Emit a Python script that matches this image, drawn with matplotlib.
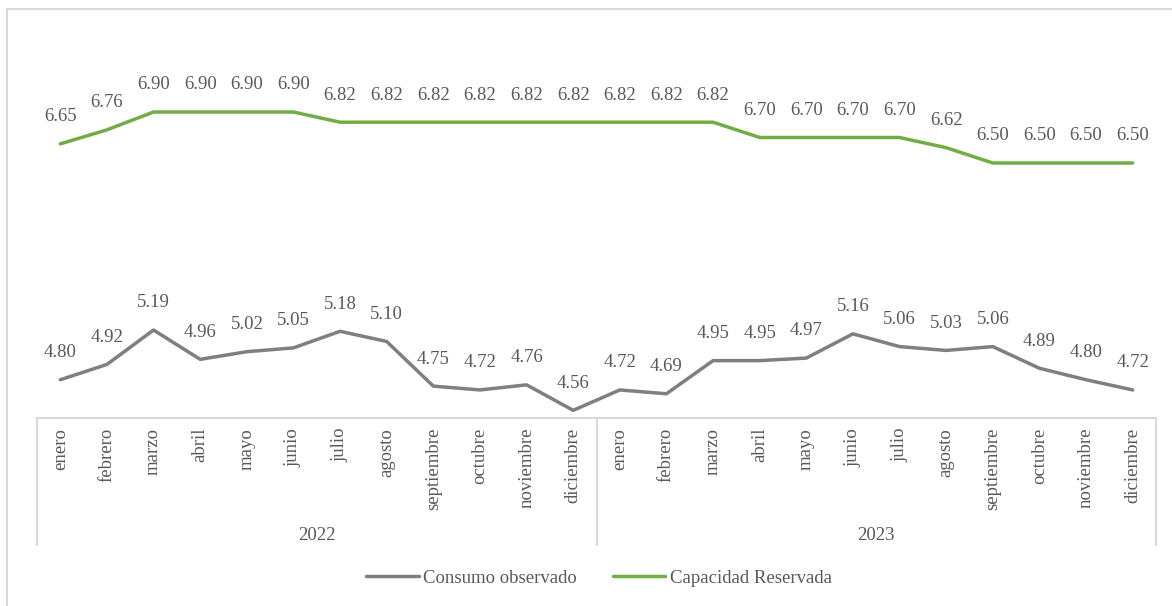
import matplotlib
matplotlib.use("Agg")
import matplotlib.pyplot as plt
from matplotlib.lines import Line2D
import matplotlib.transforms as mtransforms

# Monthly data, two years
months = ["enero", "febrero", "marzo", "abril", "mayo", "junio", "julio",
          "agosto", "septiembre", "octubre", "noviembre", "diciembre"]
years = ["2022", "2023"]

consumo = [4.80, 4.92, 5.19, 4.96, 5.02, 5.05, 5.18, 5.10, 4.75, 4.72, 4.76, 4.56,
           4.72, 4.69, 4.95, 4.95, 4.97, 5.16, 5.06, 5.03, 5.06, 4.89, 4.80, 4.72]
capacidad = [6.65, 6.76, 6.90, 6.90, 6.90, 6.90, 6.82, 6.82, 6.82, 6.82, 6.82, 6.82,
             6.82, 6.82, 6.82, 6.70, 6.70, 6.70, 6.70, 6.62, 6.50, 6.50, 6.50, 6.50]

series_names = ["Consumo observado", "Capacidad Reservada"]
series_colors = ["#7F7F7F", "#70AD47"]

plt.rcParams["font.family"] = ["Liberation Serif", "DejaVu Serif"]
TEXT = "#595959"
GRID = "#D9D9D9"

W, H = 1172, 606
fig = plt.figure(figsize=(W / 100, H / 100), dpi=100)

# chart frame (top and left edges)
fig.add_artist(Line2D([7 / W, 7 / W], [0, 1 - 9 / H], color=GRID, lw=1.5,
                      transform=fig.transFigure))
fig.add_artist(Line2D([7 / W, 1], [1 - 9 / H, 1 - 9 / H], color=GRID, lw=1.5,
                      transform=fig.transFigure))

left, right = 37, 1156
bottom_px, top_px = 418, 35.5
ax = fig.add_axes([left / W, 1 - bottom_px / H, (right - left) / W,
                   (bottom_px - top_px) / H])
ax.set_xlim(-0.5, 23.5)
ax.set_ylim(4.5, 7.5)
for s in ["top", "left", "right"]:
    ax.spines[s].set_visible(False)
ax.spines["bottom"].set_color(GRID)
ax.spines["bottom"].set_linewidth(1.5)
ax.set_xticks([])
ax.set_yticks([])

x = list(range(len(consumo)))
for vals, col in zip([consumo, capacidad], series_colors):
    ax.plot(x, vals, color=col, lw=2.5, solid_capstyle="round",
            solid_joinstyle="round", zorder=3)
    for xi, v in zip(x, vals):
        ax.annotate(f"{v:.2f}", (xi, v), xytext=(0, 19.5), textcoords="offset points",
                    ha="center", va="center", fontsize=13.5, color=TEXT)

# two-level category axis
trans = mtransforms.blended_transform_factory(ax.transData, ax.transAxes)
axis_h = bottom_px - top_px
def below(px):
    return -px / axis_h

for i in x:
    ax.text(i, below(10), months[i % 12], rotation=90, ha="center", va="top",
            fontsize=13.5, color=TEXT, transform=trans, clip_on=False)

for k, yr in enumerate(years):
    ax.text(k * 12 + 5.5, below(118), yr, ha="center", va="center",
            fontsize=13.5, color=TEXT, transform=trans, clip_on=False)

for xs in [-0.5, 11.5, 23.5]:
    ax.add_line(Line2D([xs, xs], [0, below(127)], color=GRID, lw=1.5,
                       transform=trans, clip_on=False))

handles = [Line2D([], [], color=c, lw=2.5, solid_capstyle="round") for c in series_colors]
fig.legend(handles, series_names, loc="center", bbox_to_anchor=(599 / W, 1 - 578 / H),
           ncol=2, frameon=False, fontsize=13.5, handlelength=2.8, handletextpad=0.25,
           columnspacing=1.9, labelcolor=TEXT)

fig.savefig("out.png", dpi=100, facecolor="white")
